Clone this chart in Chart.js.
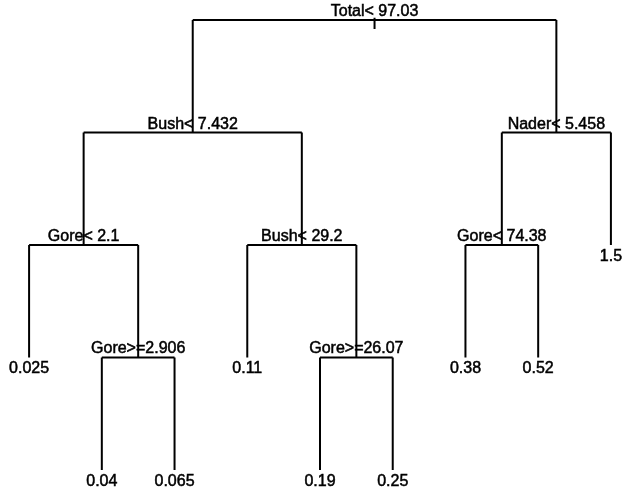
<!DOCTYPE html>
<html lang="en">
<head>
    <meta charset="UTF-8">
    <title>Regression tree</title>
    <style>
        html, body { margin: 0; padding: 0; background: #fff; }
        canvas { display: block; }
    </style>
</head>
<body>

<canvas id="treeChart" width="624" height="492"></canvas>

<script src="https://cdn.jsdelivr.net/npm/chart.js"></script>
<script>
    // tree nodes, listed depth-first (left child before right child)
    const nodeLabels = ['Total< 97.03', 'Bush< 7.432', 'Gore< 2.1', '0.025', 'Gore>=2.906', '0.04', '0.065',
                        'Bush< 29.2', '0.11', 'Gore>=26.07', '0.19', '0.25',
                        'Nader< 5.458', 'Gore< 74.38', '0.38', '0.52', '1.5'];
    const nodeParent = [-1, 0, 1, 2, 2, 4, 4, 1, 7, 7, 9, 9, 0, 12, 13, 13, 12];

    // children lists
    const children = nodeLabels.map(() => []);
    nodeParent.forEach((p, i) => { if (p >= 0) children[p].push(i); });

    // depth of each node and horizontal position (leaves 1..n, splits at mid of children)
    const nodeDepth = [];
    const nodeX = [];
    let leafCount = 0;
    function layout(i, d) {
        nodeDepth[i] = d;
        if (children[i].length === 0) {
            leafCount += 1;
            nodeX[i] = leafCount;
        } else {
            children[i].forEach(c => layout(c, d + 1));
            const xs = children[i].map(c => nodeX[c]);
            nodeX[i] = (Math.min(...xs) + Math.max(...xs)) / 2;
        }
    }
    layout(0, 0);

    // one line segment per dataset
    const datasets = [];
    function seg(a, b) {
        datasets.push({
            data: [a, b],
            borderColor: '#000',
            borderWidth: 2,
            pointRadius: 0,
            fill: false,
            tension: 0
        });
    }
    nodeLabels.forEach((lab, i) => {
        const kids = children[i];
        if (kids.length === 0) return;
        const xs = kids.map(c => nodeX[c]);
        seg({ x: Math.min(...xs), y: nodeDepth[i] }, { x: Math.max(...xs), y: nodeDepth[i] });
        kids.forEach(c => seg({ x: nodeX[c], y: nodeDepth[i] }, { x: nodeX[c], y: nodeDepth[c] }));
    });
    // little stem on the root
    seg({ x: nodeX[0], y: nodeDepth[0] - 0.02 }, { x: nodeX[0], y: nodeDepth[0] + 0.08 });

    const labelPlugin = {
        id: 'nodeLabels',
        afterDatasetsDraw(chart) {
            const c = chart.ctx;
            const xs = chart.scales.x, ys = chart.scales.y;
            c.save();
            c.font = '16px "Liberation Sans", Arial, sans-serif';
            c.fillStyle = '#000';
            c.strokeStyle = '#000';
            c.lineWidth = 0.5;
            c.textAlign = 'center';
            c.textBaseline = 'alphabetic';
            nodeLabels.forEach((lab, i) => {
                const px = xs.getPixelForValue(nodeX[i]);
                const py = ys.getPixelForValue(nodeDepth[i]);
                const ty = children[i].length ? py - 4 : py + 16;
                c.fillText(lab, px, ty);
                c.strokeText(lab, px, ty);
            });
            c.restore();
        }
    };

    const ctx = document.getElementById('treeChart').getContext('2d');
    new Chart(ctx, {
        type: 'line',
        data: { datasets: datasets },
        options: {
            responsive: false,
            animation: false,
            layout: { padding: 0 },
            plugins: {
                legend: { display: false },
                tooltip: { enabled: false }
            },
            scales: {
                x: { type: 'linear', display: false, min: 0.6, max: 9.18 },
                y: { type: 'linear', display: false, min: -0.178, max: 4.196, reverse: true }
            }
        },
        plugins: [labelPlugin]
    });
</script>

</body>
</html>
